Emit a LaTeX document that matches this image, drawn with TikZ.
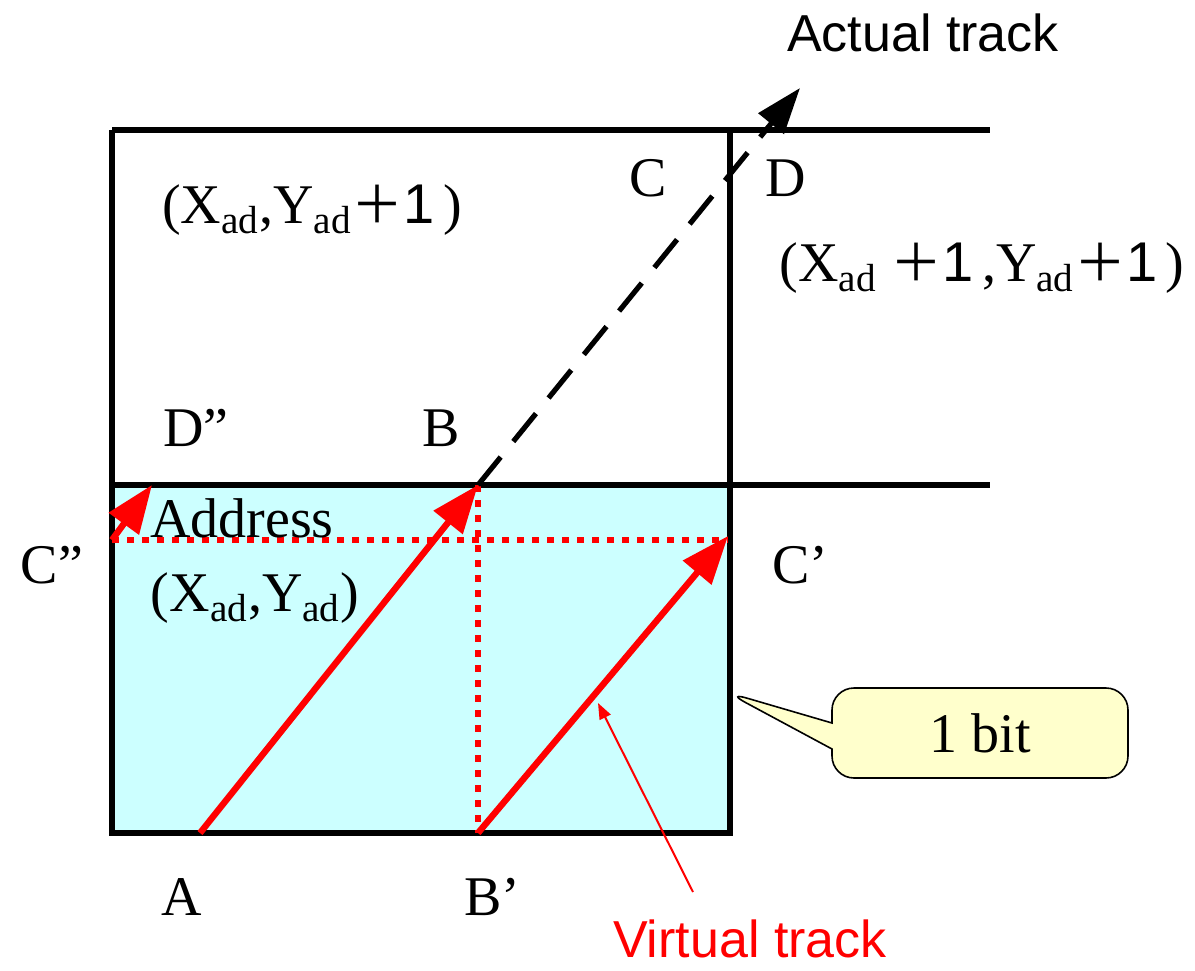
\documentclass[tikz,border=0pt]{standalone}
\usepackage{fontspec}
\setmainfont{Liberation Serif}
\setsansfont{Liberation Sans}
\newfontfamily\cjk{Noto Sans CJK JP}
\usepackage{xcolor}
\usepackage{tikz}
\usetikzlibrary{arrows.meta,shapes.callouts}
\definecolor{cellcyan}{HTML}{CCFFFF}
\definecolor{notefill}{HTML}{FFFFCC}
\definecolor{trackred}{HTML}{FF0000}
\newcommand{\plusone}{{\cjk\fontsize{26}{30}\selectfont ＋}{\sffamily\fontsize{28}{30}\selectfont 1}\hspace{4pt}}

\tikzset{
  gridline/.style={black, line width=2.6pt},
  redtrack/.style={-{Triangle[length=24pt, width=18pt]}, trackred, line width=3.2pt},
  reddot/.style={trackred, line width=3.2pt, dash pattern=on 3.5pt off 4pt},
  actual/.style={-{Triangle[length=23pt, width=16pt]}, black, line width=2.6pt, dash pattern=on 18pt off 10pt},
  lbl/.style={font=\fontsize{28}{32}\selectfont, inner sep=0pt},
  sanslbl/.style={font=\sffamily\fontsize{26}{30}\selectfont, inner sep=0pt},
}

\begin{document}
\begin{tikzpicture}[x=0.5pt, y=-0.5pt]
\useasboundingbox (0,0) rectangle (1195,970);
\fill[cellcyan] (112,485) rectangle (730,833);
\draw[gridline] (112,130) -- (990,130);
\draw[gridline] (112,485) -- (990,485);
\draw[gridline] (112,130) -- (112,833) -- (730,833) -- (730,130);
\coordinate (a) at (200,833);
\coordinate (b) at (478,485);
\coordinate (bp) at (478,833);
\coordinate (cp) at (728,536);
\coordinate (cpp) at (112,540);
\coordinate (rowend) at (728,540);
\coordinate (dpp) at (152,485);
\coordinate (aim) at (800,88);
\coordinate (edge) at (726,692);
\coordinate (vstart) at (693,892);
\coordinate (vend) at (598,703);
% dotted guides
\draw[reddot] (cpp) -- (rowend);
\draw[reddot] (b) -- (bp);
% tracks
\draw[actual] (b) -- (aim);
\draw[redtrack] (a) -- (b);
\draw[redtrack] (bp) -- (cp);
\draw[redtrack] (cpp) -- (dpp);
\draw[-{Triangle[length=8pt, width=6pt]}, trackred, line width=1pt] (vstart) -- (vend);
% labels
\node[sanslbl] (actlbl) at (923,33) {Actual track};
\node[sanslbl, text=trackred] (virtlbl) at (750,939) {Virtual track};
\node[lbl] (lblC) at (648,178) {C};
\node[lbl] (lblD) at (786,178) {D};
\node[lbl] (cellup) at (312,210) {(X\textsubscript{ad},Y\textsubscript{ad}\plusone)};
\node[lbl] (celldiag) at (982,268) {(X\textsubscript{ad} \plusone,Y\textsubscript{ad}\plusone)};
\node[lbl] (lblDpp) at (196,428) {D”};
\node[lbl] (lblB) at (441,428) {B};
\node[lbl] (addr) at (242,518) {Address};
\node[lbl] (lblCpp) at (52,565) {C”};
\node[lbl] (lblCp) at (800,565) {C’};
\node[lbl] (cellhere) at (255,598) {(X\textsubscript{ad},Y\textsubscript{ad})};
\node[lbl] (lblA) at (182,897) {A};
\node[lbl] (lblBp) at (492,897) {B’};
\node[lbl, rectangle callout, callout absolute pointer=(edge), callout pointer width=13pt,
  draw=black, line width=0.8pt, fill=notefill, rounded corners=11pt,
  minimum width=148pt, minimum height=45pt] (bitnote) at (980,733) {1 bit};
\end{tikzpicture}
\end{document}
